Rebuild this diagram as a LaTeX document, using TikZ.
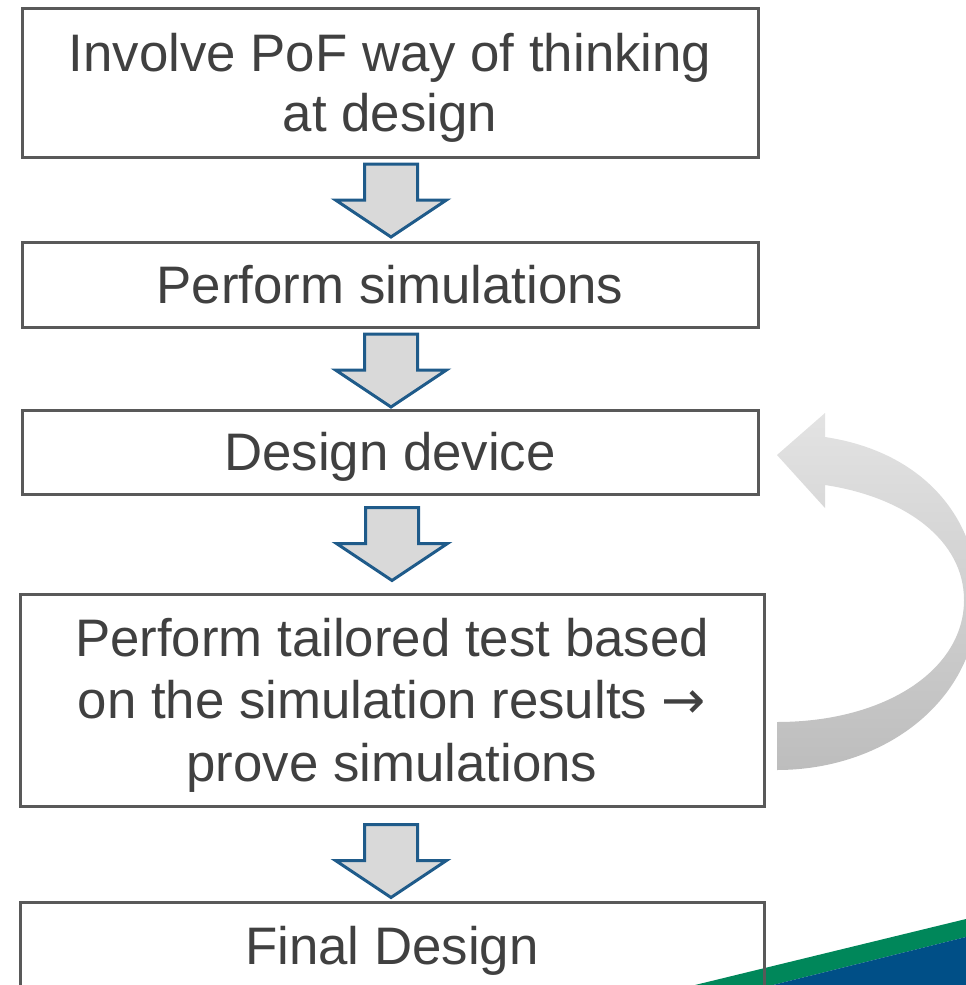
\documentclass[tikz,border=0pt]{standalone}
\usepackage{fontspec}
\setmainfont{Liberation Sans}
\newfontfamily\symbolfont{DejaVu Sans}
\usetikzlibrary{calc}
\definecolor{txt}{HTML}{404040}
\definecolor{frame}{HTML}{595959}
\definecolor{arrowline}{HTML}{1F5B8A}
\definecolor{arrowfill}{HTML}{D9D9D9}
\definecolor{stripegreen}{HTML}{00875A}
\definecolor{stripeblue}{HTML}{004F87}
\definecolor{loopTop}{HTML}{E3E3E3}
\definecolor{loopMid}{HTML}{D2D2D2}
\definecolor{loopBot}{HTML}{BDBDBD}
% struts that centre the capital letters of a text block in its box
\newcommand\capstrut{\rule{0pt}{50pt}}
\newcommand\basestrut{\rule[-12.2pt]{0pt}{0pt}}
\newcommand\bigarrow{{\symbolfont →}}
\tikzset{
  stepbox/.style={draw=frame, line width=3pt, text=txt, align=center,
    inner sep=0pt, font=\fontsize{52.8}{62.5}\selectfont},
  blockarrow/.style={draw=arrowline, fill=arrowfill, line width=3pt, line join=miter},
  down arrow/.pic={
    \path[blockarrow] (-26.5,-36.5) -- (26.5,-36.5) -- (26.5,-0.5) -- (55.5,-0.5)
      -- (0,36.5) -- (-55.5,-0.5) -- (-26.5,-0.5) -- cycle;
  }
}
\begin{document}
\begin{tikzpicture}[x=1pt, y=-1pt]
\useasboundingbox (0,0) rectangle (966,985);
\begin{scope}
\clip (0,0) rectangle (966,985);

% corner stripes
\fill[stripegreen] (695,985) -- (966,919) -- (966,937) -- (773,985) -- cycle;
\fill[stripeblue] (773,985) -- (966,937) -- (966,985) -- cycle;

% process steps
\node[stepbox, minimum width=736pt, minimum height=149pt,
      font=\fontsize{52.8}{59.5}\selectfont] (B1) at (390,82.5)
  {\capstrut Involve PoF way of thinking\\at design\basestrut};
\node[stepbox, minimum width=736pt, minimum height=85pt] (B2) at (390,284.5)
  {\capstrut Perform simulations\basestrut};
\node[stepbox, minimum width=736pt, minimum height=84pt] (B3) at (390,452)
  {\capstrut Design device\basestrut};
\node[stepbox, minimum width=744pt, minimum height=212pt] (B4) at (392,700)
  {\capstrut Perform tailored test based\\on the simulation results \bigarrow\\prove simulations\basestrut};
\node[stepbox, minimum width=744pt, minimum height=96pt] (B5) at (392,950) {};
\node[text=txt, font=\fontsize{52.8}{62.5}\selectfont, inner sep=0pt] (B5t) at (392,945.5)
  {\capstrut Final Design\basestrut};

% block arrows between steps
\pic at ($(B1.south)!0.5!(B2.north)+(1,1)$) {down arrow};
\pic at ($(B2.south)!0.5!(B3.north)+(1,2)$) {down arrow};
\pic at ($(B3.south)!0.5!(B4.north)+(1,0)$) {down arrow};
\pic at ($(B4.south)!0.5!(B5.north)+(-1,7)$) {down arrow};

% feedback loop from the test back to the design step
\shade[top color=loopTop, middle color=loopMid, bottom color=loopBot]
  (777,722) .. controls (885,722) and (964,670) .. (964,600)
  .. controls (964,540) and (905,497) .. (825,485)
  -- (825,508) -- (777,455) -- (825,413) -- (825,437)
  .. controls (925,452) and (978,520) .. (978,598)
  .. controls (978,700) and (885,770) .. (777,770) -- cycle;
\end{scope}
\end{tikzpicture}
\end{document}
